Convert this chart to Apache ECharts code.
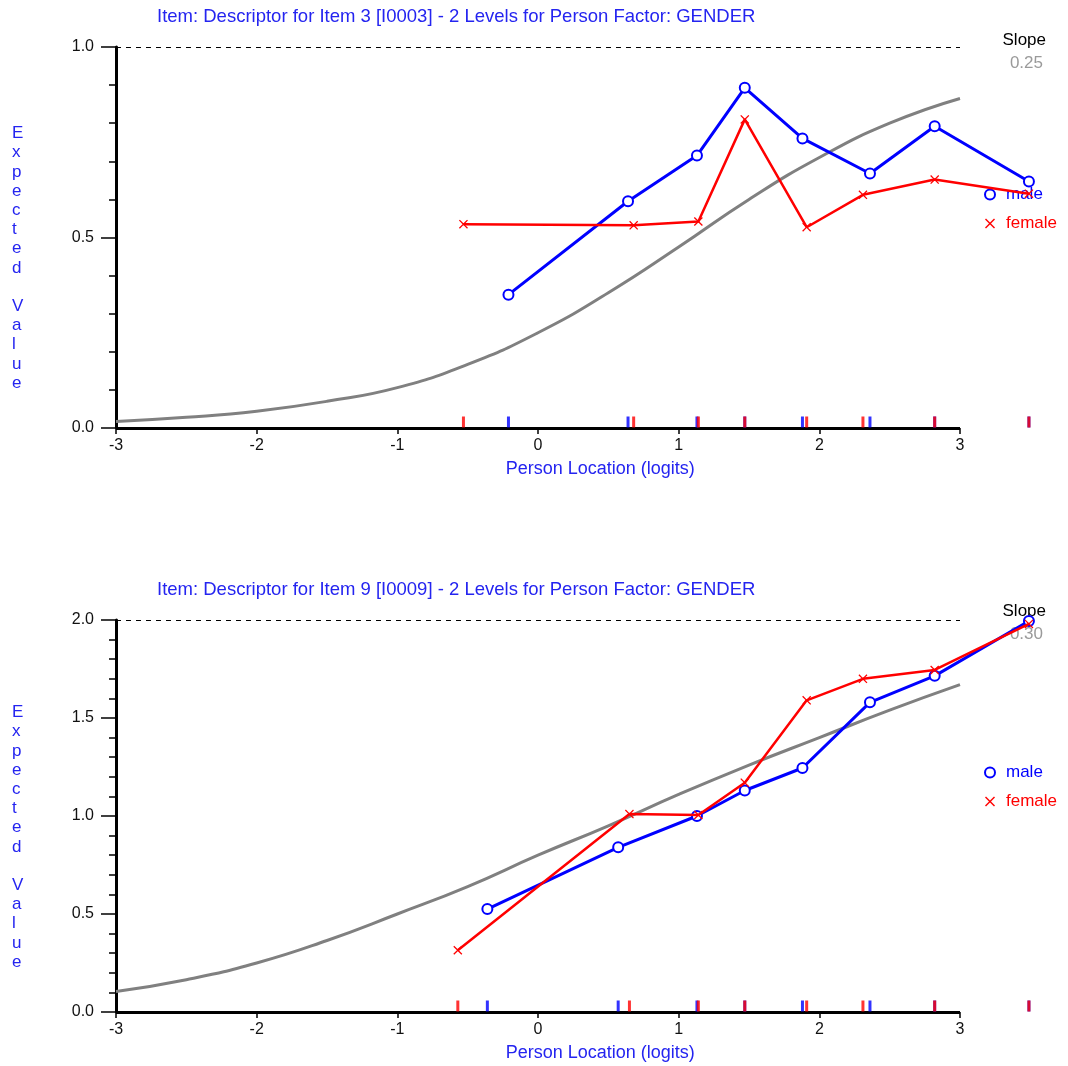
<!DOCTYPE html>
<html>
<head>
<meta charset="utf-8">
<title>Item characteristic curves by gender</title>
<script src="https://cdn.jsdelivr.net/npm/echarts@6/dist/echarts.min.js"></script>
<style>
  html, body { margin: 0; padding: 0; background: #fff; }
  #chart { width: 1068px; height: 1066px; }
</style>
</head>
<body>
<div id="chart"></div>
<script>
// x axis ticks (logits); groups past +3 are drawn outside the axis
const xTickValues = [-3, -2, -1, 0, 1, 2, 3]

// logit grid for the expected value (model) curves
const logitGrid = [-3, -2.5, -2, -1.5, -1, -0.5, 0, 0.5, 1, 1.5, 2, 2.5, 3]

// Item 3 (I0003), range 0..1
const item3Expected = [0.017, 0.028, 0.044, 0.07, 0.106, 0.167, 0.25, 0.355, 0.475, 0.60, 0.71, 0.80, 0.865]
const item3MaleX = [-0.21, 0.64, 1.13, 1.47, 1.88, 2.36, 2.82, 3.49]
const item3MaleY = [0.35, 0.595, 0.715, 0.893, 0.76, 0.668, 0.792, 0.647]
const item3FemaleX = [-0.53, 0.68, 1.14, 1.47, 1.91, 2.31, 2.82, 3.49]
const item3FemaleY = [0.535, 0.532, 0.542, 0.81, 0.527, 0.612, 0.652, 0.615]
const item3Slope = '0.25'

// Item 9 (I0009), range 0..2
const item9Expected = [0.105, 0.165, 0.25, 0.365, 0.50, 0.64, 0.80, 0.95, 1.11, 1.26, 1.40, 1.54, 1.67]
const item9MaleX = [-0.36, 0.57, 1.13, 1.47, 1.88, 2.36, 2.82, 3.49]
const item9MaleY = [0.525, 0.84, 1.00, 1.13, 1.245, 1.58, 1.715, 1.995]
const item9FemaleX = [-0.57, 0.65, 1.14, 1.47, 1.91, 2.31, 2.82, 3.49]
const item9FemaleY = [0.315, 1.01, 1.005, 1.17, 1.59, 1.70, 1.745, 1.98]
const item9Slope = '0.30'

const titles = [
  'Item: Descriptor for Item 3 [I0003] - 2 Levels for Person Factor: GENDER',
  'Item: Descriptor for Item 9 [I0009] - 2 Levels for Person Factor: GENDER'
]

const BLUE = '#0000ff'
const RED = '#ff0000'
const TXT_BLUE = '#2424f0'
const FONT = 'Liberation Sans, Arial, sans-serif'
const crossPath = 'path://M1,0 L5,4 L9,0 L10,1 L6,5 L10,9 L9,10 L5,6 L1,10 L0,9 L4,5 L0,1 Z'

// -3..3 spans 844px, the grid runs on to 3.6 so the last group fits
const UNIT = 844 / 6
const X_MAX = 3.6

let zip = (xs, ys) => xs.map((x, i) => [x, ys[i]])
let rug = (xs) => xs.map((x) => [x, 0])

function xAxisFor (gridIndex) {
  return {
    gridIndex: gridIndex,
    type: 'value',
    min: -3,
    max: X_MAX,
    interval: 1,
    name: 'Person Location (logits)',
    nameLocation: 'middle',
    nameGap: 32,
    nameTextStyle: { color: TXT_BLUE, fontSize: 18, fontFamily: FONT, padding: [0, 0, 0, 40] },
    axisLine: { show: false, onZero: false },
    axisTick: { show: true, length: 6, customValues: xTickValues, lineStyle: { color: '#000', width: 1.5 } },
    axisLabel: { color: '#111', fontSize: 16, fontFamily: FONT, margin: 10, customValues: xTickValues },
    splitLine: { show: false }
  }
}

function yAxisFor (gridIndex, max) {
  return {
    gridIndex: gridIndex,
    type: 'value',
    min: 0,
    max: max,
    interval: 0.5,
    axisLine: { show: true, onZero: false, lineStyle: { color: '#000', width: 3 } },
    axisTick: { show: true, length: 15, lineStyle: { color: '#000', width: 1.5 } },
    minorTick: { show: true, splitNumber: 5, length: 7, lineStyle: { color: '#000', width: 1.5 } },
    axisLabel: { color: '#111', fontSize: 16, fontFamily: FONT, margin: 22, formatter: (v) => v.toFixed(1) },
    splitLine: { show: false },
    minorSplitLine: { show: false }
  }
}

function seriesFor (idx, expected, maleX, maleY, femaleX, femaleY, max) {
  let first = xTickValues[0]
  let last = xTickValues[xTickValues.length - 1]
  return [
    {
      type: 'line',
      xAxisIndex: idx,
      yAxisIndex: idx,
      data: zip(logitGrid, expected),
      smooth: true,
      showSymbol: false,
      silent: true,
      lineStyle: { color: '#808080', width: 3 },
      // x axis line and the dashed top line, both only over -3..3
      markLine: {
        silent: true,
        symbol: 'none',
        label: { show: false },
        data: [
          [{ coord: [first, 0], lineStyle: { color: '#000', width: 3, type: 'solid' } }, { coord: [last, 0] }],
          [{ coord: [first, max], lineStyle: { color: '#000', width: 1, type: [5, 5] } }, { coord: [last, max] }]
        ]
      },
      z: 2
    },
    {
      name: 'male',
      type: 'line',
      xAxisIndex: idx,
      yAxisIndex: idx,
      data: zip(maleX, maleY),
      clip: false,
      symbol: 'emptyCircle',
      symbolSize: 10,
      lineStyle: { color: BLUE, width: 3 },
      itemStyle: { color: BLUE, borderColor: BLUE, borderWidth: 2 },
      z: 3
    },
    {
      name: 'female',
      type: 'line',
      xAxisIndex: idx,
      yAxisIndex: idx,
      data: zip(femaleX, femaleY),
      clip: false,
      symbol: crossPath,
      symbolSize: 9,
      lineStyle: { color: RED, width: 2.5 },
      itemStyle: { color: RED },
      z: 4
    },
    {
      type: 'scatter',
      xAxisIndex: idx,
      yAxisIndex: idx,
      data: rug(maleX),
      clip: false,
      silent: true,
      symbol: 'rect',
      symbolSize: [3, 11],
      symbolOffset: [0, -6],
      itemStyle: { color: BLUE },
      z: 5
    },
    {
      type: 'scatter',
      xAxisIndex: idx,
      yAxisIndex: idx,
      data: rug(femaleX),
      clip: false,
      silent: true,
      symbol: 'rect',
      symbolSize: [3, 11],
      symbolOffset: [0, -6],
      itemStyle: { color: RED },
      z: 6
    }
  ]
}

function legendFor (top) {
  return {
    orient: 'vertical',
    left: 979,
    top: top,
    itemWidth: 22,
    itemHeight: 10,
    itemGap: 12,
    selectedMode: false,
    textStyle: { fontSize: 17, fontFamily: FONT },
    data: [
      { name: 'male', icon: 'emptyCircle', itemStyle: { color: BLUE }, textStyle: { color: BLUE } },
      { name: 'female', icon: crossPath, itemStyle: { color: RED }, textStyle: { color: RED } }
    ]
  }
}

function slopeText (top, value) {
  return [
    { type: 'text', right: 22, top: top, style: { text: 'Slope', fill: '#000', font: '17px ' + FONT } },
    { type: 'text', right: 25, top: top + 23, style: { text: value, fill: '#9a9a9a', font: '17px ' + FONT } }
  ]
}

function verticalName (top) {
  return {
    type: 'text',
    left: 12,
    top: top,
    style: {
      text: 'Expected Value'.split('').join('\n'),
      fill: TXT_BLUE,
      font: '17px ' + FONT,
      lineHeight: 19.2,
      align: 'center'
    }
  }
}

let chart = echarts.init(document.getElementById('chart'), null, { renderer: 'canvas' })

chart.setOption({
  animation: false,
  backgroundColor: '#fff',
  title: [
    { text: titles[0], left: 157, top: 7, padding: 0, textStyle: { color: TXT_BLUE, fontSize: 18.5, fontWeight: 'normal', fontFamily: FONT } },
    { text: titles[1], left: 157, top: 580, padding: 0, textStyle: { color: TXT_BLUE, fontSize: 18.5, fontWeight: 'normal', fontFamily: FONT } }
  ],
  grid: [
    { left: 116, top: 47, width: UNIT * (X_MAX + 3), height: 381 },
    { left: 116, top: 620, width: UNIT * (X_MAX + 3), height: 392 }
  ],
  legend: [legendFor(181), legendFor(759)],
  xAxis: [xAxisFor(0), xAxisFor(1)],
  yAxis: [yAxisFor(0, 1), yAxisFor(1, 2)],
  series: [
    ...seriesFor(0, item3Expected, item3MaleX, item3MaleY, item3FemaleX, item3FemaleY, 1),
    ...seriesFor(1, item9Expected, item9MaleX, item9MaleY, item9FemaleX, item9FemaleY, 2)
  ],
  graphic: [
    ...slopeText(32, item3Slope),
    ...slopeText(603, item9Slope),
    verticalName(124),
    verticalName(703)
  ]
})
</script>
</body>
</html>
